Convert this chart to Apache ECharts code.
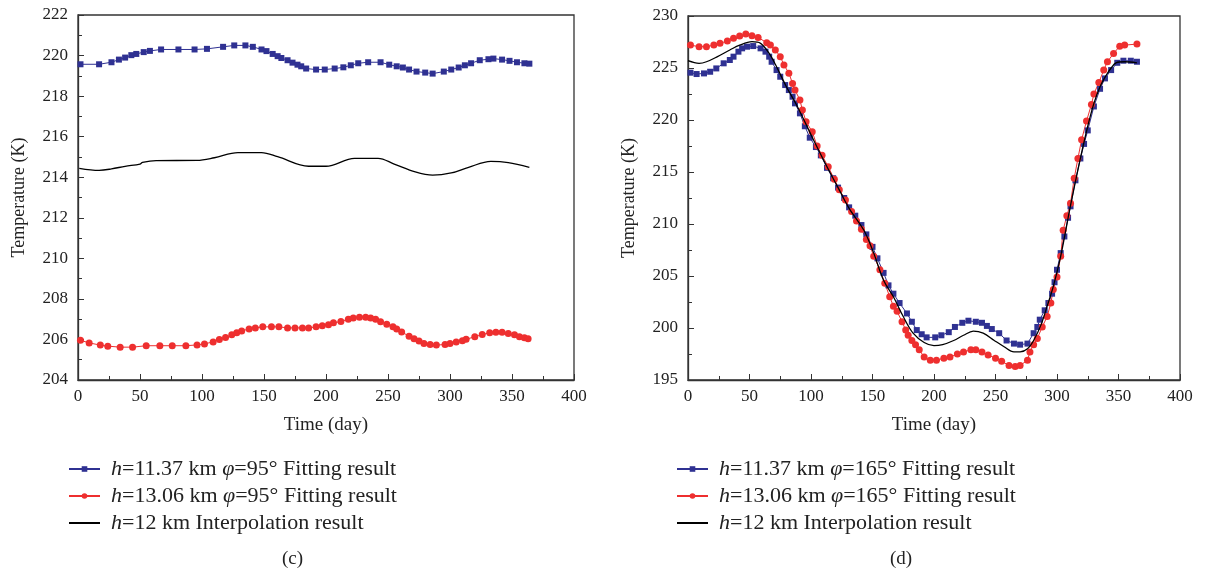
<!DOCTYPE html>
<html>
<head>
<meta charset="utf-8">
<script src="https://cdn.jsdelivr.net/npm/echarts@6/dist/echarts.min.js"></script>
<style>html,body{margin:0;padding:0;background:#fff}#c{width:1205px;height:578px}</style>
</head>
<body>
<div id="c"></div>
<script>
// ---- Data (day, temperature K) ----
const xTicksMax = 400;
const leftYRange = [204, 222];
const rightYRange = [195, 230];

const namesLeft = ['h=11.37 km φ=95° Fitting result', 'h=13.06 km φ=95° Fitting result', 'h=12 km Interpolation result'];
const namesRight = ['h=11.37 km φ=165° Fitting result', 'h=13.06 km φ=165° Fitting result', 'h=12 km Interpolation result'];
const captions = ['(c)', '(d)'];

const leftBlue = [[2,219.57],[17,219.57],[27,219.67],[33,219.80],[38,219.90],[43,220.02],[47,220.08],[53,220.17],[58,220.23],[67,220.30],[81,220.30],[94,220.30],[104,220.33],[117,220.43],[126,220.50],[135,220.50],[141,220.43],[148,220.30],[152,220.22],[157,220.08],[161,219.97],[164,219.88],[169,219.77],[173,219.65],[177,219.55],[180,219.47],[184,219.36],[192,219.31],[199,219.31],[207,219.36],[214,219.42],[220,219.52],[226,219.62],[234,219.67],[244,219.67],[251,219.55],[257,219.47],[262,219.41],[267,219.31],[273,219.21],[280,219.16],[286,219.11],[295,219.21],[301,219.31],[307,219.41],[312,219.52],[317,219.62],[324,219.77],[331,219.82],[335,219.85],[342,219.80],[348,219.74],[354,219.67],[360,219.62],[364,219.60]];

const leftRed = [[2,205.96],[9,205.83],[18,205.72],[24,205.67],[34,205.62],[44,205.62],[55,205.69],[66,205.69],[76,205.69],[87,205.69],[96,205.73],[102,205.78],[109,205.88],[114,206.00],[119,206.10],[124,206.23],[128,206.33],[132,206.42],[138,206.52],[143,206.57],[149,206.62],[156,206.62],[162,206.62],[169,206.57],[175,206.57],[181,206.57],[186,206.57],[192,206.62],[197,206.67],[202,206.73],[206,206.82],[212,206.88],[218,207.00],[222,207.06],[227,207.10],[232,207.10],[236,207.06],[240,207.00],[244,206.87],[249,206.75],[254,206.62],[257,206.52],[261,206.37],[267,206.16],[271,206.03],[275,205.92],[279,205.80],[284,205.75],[289,205.72],[296,205.75],[300,205.80],[305,205.87],[310,205.93],[313,206.01],[320,206.13],[326,206.24],[332,206.33],[337,206.36],[342,206.36],[347,206.29],[352,206.23],[356,206.13],[360,206.08],[363,206.03]];

const leftBlack = [[1,214.44],[17,214.34],[27,214.41],[38,214.54],[50,214.65],[52,214.73],[63,214.82],[96,214.83],[110,214.96],[129,215.21],[148,215.21],[161,215.01],[186,214.54],[200,214.54],[223,214.93],[242,214.93],[255,214.65],[272,214.26],[286,214.10],[301,214.21],[315,214.49],[333,214.78],[347,214.72],[364,214.49]];

const rightBlue = [[2,224.55],[7,224.42],[13,224.48],[18,224.64],[23,224.96],[29,225.45],[34,225.77],[37,226.09],[41,226.57],[44,226.89],[48,227.05],[53,227.11],[59,226.89],[63,226.57],[66,226.09],[68,225.6],[72,224.8],[75,224.16],[79,223.36],[82,222.88],[85,222.24],[87,221.6],[91,220.64],[95,219.4],[99,218.3],[104,217.4],[108,216.6],[113,215.4],[118,214.4],[122,213.5],[127,212.5],[131,211.6],[136,210.8],[141,209.9],[145,209.0],[150,207.8],[154,206.7],[159,205.3],[163,204.1],[167,203.3],[172,202.4],[178,201.4],[182,200.6],[186,199.8],[190,199.4],[194,199.1],[201,199.1],[206,199.3],[212,199.6],[217,200.1],[223,200.5],[228,200.7],[234,200.6],[239,200.5],[243,200.2],[247,199.9],[253,199.5],[259,198.8],[265,198.5],[270,198.4],[276,198.5],[281,199.5],[284,200.1],[286,200.8],[290,201.7],[293,202.4],[296,203.3],[298,204.4],[300,205.6],[303,207.2],[306,208.8],[309,210.6],[311,211.7],[315,214.2],[319,216.3],[322,217.7],[325,219.0],[330,221.3],[335,223.0],[339,224.0],[344,224.8],[349,225.5],[354,225.7],[360,225.7],[365,225.6]];

const rightRed = [[2,227.2],[9,227.05],[15,227.05],[21,227.2],[26,227.37],[32,227.6],[37,227.85],[42,228.07],[47,228.27],[52,228.1],[57,227.94],[64,227.43],[67,227.2],[71,226.73],[75,226.09],[78,225.3],[82,224.5],[85,223.52],[87,222.88],[91,221.92],[93,220.96],[96,219.84],[101,218.87],[105,217.5],[109,216.6],[114,215.5],[119,214.3],[123,213.3],[128,212.3],[133,211.2],[137,210.3],[141,209.5],[145,208.5],[148,207.9],[151,206.9],[156,205.6],[160,204.3],[164,203.0],[167,202.1],[170,201.6],[174,200.6],[177,199.8],[179,199.3],[182,198.8],[185,198.4],[188,197.9],[192,197.2],[197,196.9],[202,196.9],[208,197.1],[213,197.2],[219,197.5],[224,197.7],[230,197.9],[234,197.9],[239,197.7],[244,197.4],[250,197.1],[255,196.8],[261,196.4],[266,196.3],[270,196.4],[276,196.9],[278,197.7],[281,198.4],[284,199.0],[288,200.1],[292,201.1],[295,202.4],[297,203.7],[300,204.9],[303,206.9],[305,209.4],[308,210.8],[311,212.0],[314,214.4],[317,216.3],[320,218.1],[324,219.9],[328,221.5],[330,222.5],[334,223.6],[338,224.8],[341,225.6],[346,226.4],[351,227.1],[355,227.2],[365,227.3]];

const rightBlack = [[0,225.7],[9,225.45],[15,225.6],[24,226.1],[34,226.73],[42,227.2],[52,227.53],[59,227.37],[66,226.4],[72,225.12],[80,223.2],[89,221.28],[102,218.1],[113,215.5],[122,213.5],[131,211.5],[143,209.4],[151,207.2],[159,204.6],[167,203.0],[175,201.1],[183,199.5],[192,198.6],[200,198.3],[207,198.4],[216,198.8],[224,199.3],[232,199.7],[240,199.5],[249,198.8],[257,198.2],[265,197.7],[270,197.7],[276,198.0],[281,198.8],[287,200.3],[292,202.1],[297,204.0],[303,206.9],[311,211.8],[319,216.3],[325,219.4],[330,221.6],[335,223.2],[340,224.3],[344,225.0],[348,225.5],[355,225.6],[365,225.5]];

// ---- Styles ----
const FONT = '"Liberation Serif","DejaVu Serif",serif';
const BLUE = '#2f3192';
const RED = '#ee2f2f';
const AX = '#333';

function xAxis(gi) {
  return {
    type: 'value', gridIndex: gi, min: 0, max: xTicksMax, interval: 50,
    name: 'Time (day)', nameLocation: 'middle', nameGap: 36,
    nameTextStyle: {fontFamily: FONT, fontSize: 19, color: '#222'},
    axisLine: {show: true, lineStyle: {color: AX, width: 1.3}},
    axisTick: {show: true, inside: true, length: 6, lineStyle: {color: AX}},
    minorTick: {show: true, splitNumber: 2, length: 4, lineStyle: {color: AX}},
    axisLabel: {fontFamily: FONT, fontSize: 17, color: '#222', margin: 8},
    splitLine: {show: false}
  };
}
function yAxis(gi, range, interval) {
  return {
    type: 'value', gridIndex: gi, min: range[0], max: range[1], interval: interval,
    name: 'Temperature (K)', nameLocation: 'middle', nameGap: 50,
    nameTextStyle: {fontFamily: FONT, fontSize: 18, color: '#222'},
    axisLine: {show: true, lineStyle: {color: AX, width: 1.3}},
    axisTick: {show: true, inside: true, length: 6, lineStyle: {color: AX}},
    minorTick: {show: true, splitNumber: 2, length: 4, lineStyle: {color: AX}},
    axisLabel: {fontFamily: FONT, fontSize: 17, color: '#222', margin: 10},
    splitLine: {show: false}
  };
}
function fitSeries(name, data, gi, color, symbol) {
  return {
    type: 'line', name: name, data: data, xAxisIndex: gi, yAxisIndex: gi,
    symbol: symbol, symbolSize: symbol === 'rect' ? 6 : 7, showSymbol: true,
    lineStyle: {color: color, width: 1}, itemStyle: {color: color},
    animation: false, z: 3
  };
}
function lineSeries(name, data, gi) {
  return {
    type: 'line', name: name, data: data, xAxisIndex: gi, yAxisIndex: gi,
    symbol: 'none', smooth: 0.35, lineStyle: {color: '#000', width: 1.3},
    itemStyle: {color: '#000'}, animation: false, z: 4
  };
}
function legend(left, names) {
  return {
    orient: 'vertical', left: left, top: 453, itemWidth: 31, itemHeight: 7, itemGap: 5,
    data: names.map((n, i) => i === 2 ? {name: n, itemStyle: {opacity: 0}} : {name: n}),
    formatter: n => n.replace(/^h=/, '{i|h}=').replace('φ=', '{i|φ}='),
    textStyle: {fontFamily: FONT, fontSize: 22, color: '#222', padding: [0, 0, 0, 6],
      rich: {i: {fontFamily: FONT, fontSize: 22, fontStyle: 'italic', color: '#222'}}},
    selectedMode: false
  };
}

const chart = echarts.init(document.getElementById('c'), null, {renderer: 'canvas'});
chart.setOption({
  backgroundColor: '#fff',
  animation: false,
  grid: [
    {left: 78, right: 631, top: 15, bottom: 198, show: true, borderColor: AX, borderWidth: 1.3, backgroundColor: 'transparent'},
    {left: 688, right: 25, top: 16, bottom: 198, show: true, borderColor: AX, borderWidth: 1.3, backgroundColor: 'transparent'}
  ],
  xAxis: [xAxis(0), xAxis(1)],
  yAxis: [yAxis(0, leftYRange, 2), yAxis(1, rightYRange, 5)],
  legend: [legend(63, namesLeft), legend(671, namesRight)],
  graphic: [
    {type: 'text', left: 282, top: 550, style: {text: captions[0], font: '19px ' + FONT, fill: '#222'}},
    {type: 'text', left: 890, top: 550, style: {text: captions[1], font: '19px ' + FONT, fill: '#222'}}
  ],
  series: [
    fitSeries(namesLeft[0], leftBlue, 0, BLUE, 'rect'),
    fitSeries(namesLeft[1], leftRed, 0, RED, 'circle'),
    lineSeries(namesLeft[2], leftBlack, 0),
    fitSeries(namesRight[0], rightBlue, 1, BLUE, 'rect'),
    fitSeries(namesRight[1], rightRed, 1, RED, 'circle'),
    lineSeries(namesRight[2], rightBlack, 1)
  ]
});
</script>
</body>
</html>
